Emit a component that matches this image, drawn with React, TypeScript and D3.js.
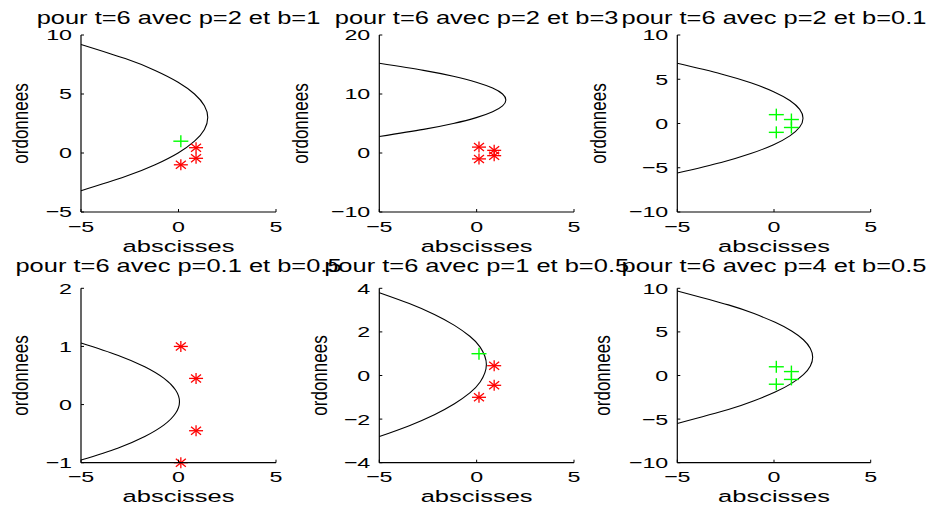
import React from "react";
import * as d3 from "d3";

// ---------- data ----------
const xTicks = [-5, 0, 5];
const xDomain: [number, number] = [-5, 5];
const xLabel = "abscisses";
const yLabel = "ordonnees";

const titles = [
  "pour t=6 avec p=2 et b=1",
  "pour t=6 avec p=2 et b=3",
  "pour t=6 avec p=2 et b=0.1",
  "pour t=6 avec p=0.1 et b=0.5",
  "pour t=6 avec p=1 et b=0.5",
  "pour t=6 avec p=4 et b=0.5",
];

const yDomain1 = [-5, 10];
const yDomain2 = [-10, 20];
const yDomain3 = [-10, 10];
const yDomain4 = [-1, 2];
const yDomain5 = [-4, 4];
const yDomain6 = [-10, 10];

const yTicks1 = [-5, 0, 5, 10];
const yTicks2 = [-10, 0, 10, 20];
const yTicks3 = [-10, -5, 0, 5, 10];
const yTicks4 = [-1, 0, 1, 2];
const yTicks5 = [-4, -2, 0, 2, 4];
const yTicks6 = [-10, -5, 0, 5, 10];

// curves (x, y)
const curve1X = [-5, -2.73, -1.2, -0.02, 0.82, 1.33, 1.5, 1.33, 0.82, -0.02, -1.2, -2.73, -5];
const curve1Y = [9.2, 8, 7, 6, 5, 4, 3, 2, 1, 0, -1, -2, -3.2];
const curve2X = [-5, -2.73, -1.2, -0.02, 0.82, 1.33, 1.5, 1.33, 0.82, -0.02, -1.2, -2.73, -5];
const curve2Y = [15.2, 14, 13, 12, 11, 10, 9, 8, 7, 6, 5, 4, 2.8];
const curve3X = [-5, -2.73, -1.2, -0.02, 0.82, 1.33, 1.5, 1.33, 0.82, -0.02, -1.2, -2.73, -5];
const curve3Y = [6.8, 5.6, 4.6, 3.6, 2.6, 1.6, 0.6, -0.4, -1.4, -2.4, -3.4, -4.4, -5.6];
const curve4X = [-5, -3.12, -1.73, -0.74, -0.15, 0.05, -0.15, -0.74, -1.73, -3.12, -5];
const curve4Y = [1.06, 0.85, 0.65, 0.45, 0.25, 0.05, -0.15, -0.35, -0.55, -0.75, -0.955];
const curve5X = [-5, -3.46, -2.17, -1.14, -0.35, 0.18, 0.5, 0.18, -0.35, -1.14, -2.17, -3.46, -5];
const curve5Y = [3.8, 3.3, 2.8, 2.3, 1.8, 1.3, 0.5, -0.3, -0.8, -1.3, -1.8, -2.3, -2.8];
const curve6X = [-5, -2.36, -1.03, 0.06, 0.91, 1.52, 1.88, 2, 1.88, 1.52, 0.91, 0.06, -1.03, -2.36, -5];
const curve6Y = [9.7, 8.1, 7.1, 6.1, 5.1, 4.1, 3.1, 2.1, 1.1, 0.1, -0.9, -1.9, -2.9, -3.9, -5.5];

// the four test points, and whether each falls inside the parabola
const pointsX = [0.12, 0.9, 0.9, 0.12];
const pointsY = [1, 0.45, -0.45, -1];
const inside1 = [true, false, false, false];
const inside2 = [false, false, false, false];
const inside3 = [true, true, true, true];
const inside4 = [false, false, false, false];
const inside5 = [true, false, false, false];
const inside6 = [true, true, true, true];

const yDomains = [yDomain1, yDomain2, yDomain3, yDomain4, yDomain5, yDomain6];
const yTicksAll = [yTicks1, yTicks2, yTicks3, yTicks4, yTicks5, yTicks6];
const curvesX = [curve1X, curve2X, curve3X, curve4X, curve5X, curve6X];
const curvesY = [curve1Y, curve2Y, curve3Y, curve4Y, curve5Y, curve6Y];
const insides = [inside1, inside2, inside3, inside4, inside5, inside6];

// ---------- layout ----------
const W = 928;
const H = 512;
const colLeft = [81, 379.3, 677.3];
const colRight = [276, 574, 870.7];
const rowTop = [35, 288.3];
const rowBottom = [212, 462.7];
const yLabelX = [
  [28, 308, 606],
  [28, 327, 610],
];
const SX = 1.5; // horizontal stretch of horizontal text
const FONT = "'Liberation Sans', Arial, Helvetica, sans-serif";
const TICK = 3;

const fmt = (v: number) => String(v).replace("-", "\u2212");

function Panel({ i }: { i: number }) {
  const row = Math.floor(i / 3);
  const col = i % 3;
  const L = colLeft[col];
  const R = colRight[col];
  const T = rowTop[row];
  const B = rowBottom[row];
  const x = d3.scaleLinear().domain(xDomain).range([L, R]);
  const y = d3.scaleLinear().domain(yDomains[i] as [number, number]).range([B, T]);
  const pts = curvesX[i].map((cx, k) => [cx, curvesY[i][k]] as [number, number]);
  const line = d3
    .line<[number, number]>()
    .x((d) => x(d[0]))
    .y((d) => y(d[1]))
    .curve(d3.curveNatural);
  const cx = (L + R) / 2;
  const cy = (T + B) / 2;

  return (
    <g>
      {/* curve */}
      <path d={line(pts) || ""} fill="none" stroke="#000" strokeWidth={1.1} />
      {/* markers */}
      {pointsX.map((px, k) => {
        const X = x(px);
        const Y = y(pointsY[k]);
        if (insides[i][k]) {
          return (
            <g key={k} stroke="#00ff00" strokeWidth={1.4}>
              <line x1={X - 7.5} x2={X + 7.5} y1={Y} y2={Y} />
              <line x1={X} x2={X} y1={Y - 6} y2={Y + 6} />
            </g>
          );
        }
        return (
          <g key={k} stroke="#ff0000" strokeWidth={1.3}>
            <line x1={X - 7} x2={X + 7} y1={Y} y2={Y} />
            <line x1={X} x2={X} y1={Y - 5.5} y2={Y + 5.5} />
            <line x1={X - 5} x2={X + 5} y1={Y - 4} y2={Y + 4} />
            <line x1={X - 5} x2={X + 5} y1={Y + 4} y2={Y - 4} />
          </g>
        );
      })}
      {/* axes */}
      <line x1={L} x2={R} y1={B} y2={B} stroke="#000" strokeWidth={1.2} />
      <line x1={L} x2={L} y1={T} y2={B} stroke="#000" strokeWidth={1.2} />
      {xTicks.map((t) => (
        <g key={"x" + t}>
          <line x1={x(t)} x2={x(t)} y1={B} y2={B - TICK} stroke="#000" />
          <text
            transform={`translate(${x(t)},${B + 19.5}) scale(${SX},1)`}
            textAnchor="middle"
            fontFamily={FONT}
            fontSize={15.5}
            fill="#000"
          >
            {fmt(t)}
          </text>
        </g>
      ))}
      {yTicksAll[i].map((t) => (
        <g key={"y" + t}>
          <line x1={L} x2={L + TICK} y1={y(t)} y2={y(t)} stroke="#000" />
          <text
            transform={`translate(${L - 9},${y(t) + 5.4}) scale(${SX},1)`}
            textAnchor="end"
            fontFamily={FONT}
            fontSize={15.5}
            fill="#000"
          >
            {fmt(t)}
          </text>
        </g>
      ))}
      {/* labels */}
      <text
        transform={`translate(${cx},${B + 39.5}) scale(${SX},1)`}
        textAnchor="middle"
        fontFamily={FONT}
        fontSize={17}
        fill="#000"
      >
        {xLabel}
      </text>
      <text
        transform={`translate(${yLabelX[row][col]},${cy}) rotate(-90) scale(1,1.3)`}
        textAnchor="middle"
        fontFamily={FONT}
        fontSize={17}
        fill="#000"
      >
        {yLabel}
      </text>
      <text
        transform={`translate(${cx},${T - (row === 0 ? 11 : 16)}) scale(${SX * 0.97},1.03)`}
        textAnchor="middle"
        fontFamily={FONT}
        fontSize={17.5}
        fill="#000"
      >
        {titles[i]}
      </text>
    </g>
  );
}

export default function App() {
  return (
    <svg
      width={W}
      height={H}
      viewBox={`0 0 ${W} ${H}`}
      style={{ position: "absolute", left: 0, top: 0, background: "#fff" }}
    >
      <rect x={0} y={0} width={W} height={H} fill="#fff" />
      {[0, 1, 2, 3, 4, 5].map((i) => (
        <Panel key={i} i={i} />
      ))}
    </svg>
  );
}
